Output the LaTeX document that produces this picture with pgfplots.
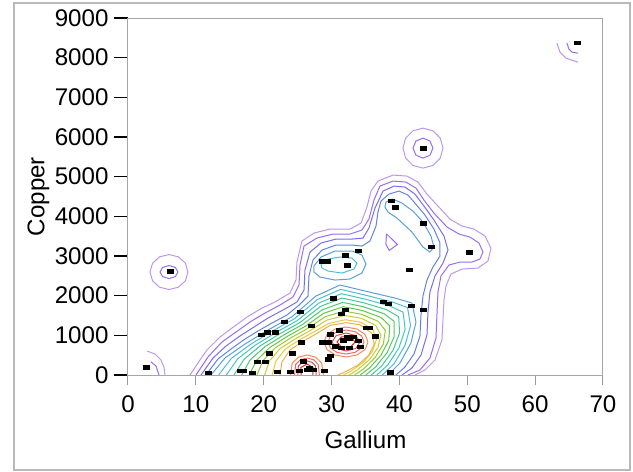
\documentclass[border=0pt]{standalone}
\usepackage{pgfplots}
\pgfplotsset{compat=1.18}
\usepackage{fontspec}
\setmainfont{Liberation Sans}
\definecolor{c1}{RGB}{190,150,240}
\definecolor{c2}{RGB}{150,110,240}
\definecolor{c3}{RGB}{120,110,235}
\definecolor{c4}{RGB}{100,130,225}
\definecolor{c5}{RGB}{90,160,215}
\definecolor{c6}{RGB}{80,190,210}
\definecolor{c7}{RGB}{70,200,190}
\definecolor{c8}{RGB}{70,200,150}
\definecolor{c9}{RGB}{80,200,110}
\definecolor{c10}{RGB}{100,200,70}
\definecolor{c11}{RGB}{150,205,50}
\definecolor{c12}{RGB}{200,205,50}
\definecolor{c13}{RGB}{230,200,60}
\definecolor{c14}{RGB}{240,175,70}
\definecolor{c15}{RGB}{240,140,90}
\definecolor{c16}{RGB}{235,110,100}
\definecolor{c17}{RGB}{225,80,80}
\definecolor{c18}{RGB}{210,40,40}
\pgfplotsset{cl/.style={draw=#1, line width=0.5bp, mark=none}}
\begin{document}
\begin{tikzpicture}
\path[use as bounding box] (-64bp,-48.5bp) rectangle (252.5bp,187.5bp);
\draw[gray!55, line width=0.6bp] (-57bp,-47.5bp) rectangle (251bp,186bp);
\begin{axis}[
  at={(0,0)}, anchor=south west,
  scale only axis, width=237.5bp, height=178.5bp,
  xmin=0, xmax=70, ymin=0, ymax=9000,
  xtick={0,10,...,70}, ytick={0,1000,...,9000},
  axis line style={draw=gray!70, line width=0.5bp},
  tick align=outside,
  xtick pos=left, ytick pos=left,
  ytick style={black, line width=0.8bp, /pgfplots/major tick length=7bp},
  xtick style={gray!80, line width=0.5bp, /pgfplots/major tick length=5bp},
  tick label style={font=\fontsize{12.1}{14}\selectfont},
  /pgf/number format/assume math mode=true,
  yticklabel style={/pgf/number format/1000 sep={}, xshift=-2bp},
  xticklabel style={yshift=-2.5bp},
  scaled y ticks=false,
  xlabel={Gallium}, ylabel={Copper},
  every axis x label/.style={at={(axis description cs:0.5,-0.1821)}, anchor=center, font=\fontsize{12.1}{14}\selectfont},
  every axis y label/.style={at={(axis description cs:-0.1884,0.5)}, anchor=center, rotate=90, font=\fontsize{12.1}{14}\selectfont},
  clip mode=individual,
]
% ---- level 1 ----
\addplot[cl=c1] coordinates {(9.14,0) (10.61,378) (11.64,630) (13.56,958) (15.33,1184) (17.54,1462) (19.75,1688) (21.66,1840) (23.87,2066) (24.76,2394) (24.90,2848) (25.64,3377) (27.41,3578) (29.77,3679) (32.71,3679) (34.34,3830) (35.22,4234) (35.81,4637) (36.84,4889) (39.05,5040) (41.11,5015) (42.74,4864) (44.06,4561) (45.68,4259) (47.45,3931) (49.22,3755) (50.99,3679) (52.61,3503) (53.49,3200) (53.05,2873) (51.58,2696) (49.22,2671) (47.60,2545) (46.86,2243) (46.57,1890) (46.42,1386) (46.27,882) (45.24,378) (43.77,126) (42.29,0)};
\addplot[cl=c1] coordinates {(8.84,2596) (8.46,2817) (7.44,2978) (6.04,3037) (4.64,2978) (3.62,2817) (3.24,2596) (3.62,2376) (4.64,2214) (6.04,2155) (7.44,2214) (8.46,2376) (8.84,2596)};
\addplot[cl=c1] coordinates {(46.42,5720) (46.02,5972) (44.95,6156) (43.47,6224) (41.99,6156) (40.92,5972) (40.52,5720) (40.92,5468) (41.99,5284) (43.47,5216) (44.95,5284) (46.02,5468) (46.42,5720)};
\addplot[cl=c1] coordinates {(63.22,8366) (63.66,8140) (64.54,7988) (66.31,7888)};
\addplot[cl=c1] coordinates {(2.80,605) (3.98,529) (4.86,378) (5.30,202) (5.45,0)};
% ---- level 2 ----
\addplot[cl=c2] coordinates {(10.02,0) (11.79,454) (13.85,832) (15.92,1084) (17.98,1336) (20.19,1562) (22.40,1764) (24.31,1966) (25.20,2268) (25.35,2772) (25.94,3251) (27.85,3452) (30.21,3553) (32.71,3553) (34.48,3654) (35.51,3931) (36.25,4410) (37.13,4763) (39.05,4889) (40.97,4864) (42.44,4712) (43.62,4410) (45.09,4082) (47.01,3730) (48.78,3553) (50.40,3478) (51.73,3326) (52.31,3100) (51.87,2923) (50.69,2848) (48.92,2848) (47.30,2772) (46.12,2495) (45.68,2092) (45.53,1512) (45.39,932) (44.50,428) (43.03,126) (41.26,0)};
\addplot[cl=c2] coordinates {(7.37,2596) (6.98,2712) (6.04,2760) (5.10,2712) (4.71,2596) (5.10,2480) (6.04,2432) (6.98,2480) (7.37,2596)};
\addplot[cl=c2] coordinates {(44.94,5720) (44.51,5898) (43.47,5972) (42.43,5898) (42.00,5720) (42.43,5542) (43.47,5468) (44.51,5542) (44.94,5720)};
\addplot[cl=c2] coordinates {(64.69,8366) (64.99,8215) (65.43,8140) (66.31,8114)};
\addplot[cl=c2] coordinates {(3.39,328) (4.13,227) (4.57,0)};
\addplot[cl=c2] coordinates {(38.1,3560) (39.7,3290) (38.5,3140) (38.0,3300) (38.1,3560)};
% ---- level 3 ----
\addplot[cl=c3] coordinates {(10.76,0) (12.53,428) (14.44,731) (16.50,983) (18.57,1210) (20.63,1436) (22.84,1638) (24.90,1840) (25.94,2142) (26.08,2646) (26.82,3100) (28.44,3326) (30.65,3427) (33.01,3427) (34.63,3452) (35.51,3704) (36.40,4208) (37.58,4637) (39.20,4763) (40.82,4738) (42.29,4561) (43.62,4259) (45.09,3906) (46.57,3503) (47.16,3150) (46.42,2822) (45.24,2495) (44.50,2092) (44.21,1588) (44.06,1008) (43.18,504) (41.85,176) (40.38,0)};
% ---- level 4 ----
\addplot[cl=c4] coordinates {(11.49,0) (13.26,403) (15.18,655) (17.24,907) (19.16,1109) (21.22,1310) (23.43,1512) (25.20,1760) (26.53,1991) (26.67,2495) (27.26,2898) (28.59,3150) (30.65,3276) (33.01,3276) (34.48,3251) (35.66,3377) (36.55,3755) (36.84,4108) (37.28,4385) (38.46,4561) (39.94,4637) (41.26,4536) (42.29,4334) (43.77,4032) (45.09,3679) (45.98,3326) (45.98,2999) (44.94,2722) (44.06,2394) (43.47,1991) (43.18,1512) (43.03,983) (42.15,529) (40.82,202) (39.49,0)};
% ---- level 5 ----
\addplot[cl=c5] coordinates {(12.23,0) (14.29,428) (17.24,781) (20.63,1134) (24.17,1470) (27.70,1991) (31.24,2268) (34.93,2117) (39.35,1940) (41.85,1814) (42.44,1336) (41.70,806) (40.08,302) (38.31,0)};
\addplot[cl=c5] coordinates {(27.41,2747) (28.44,2974) (30.50,3125) (33.01,3125) (34.48,3024) (35.07,2797) (34.48,2570) (32.71,2419) (30.50,2394) (28.29,2470) (27.41,2596) (27.41,2747)};
\addplot[cl=c5] coordinates {(38.02,4360) (39.05,4435) (40.38,4334) (42.00,4133) (43.47,3856) (44.65,3503) (45.09,3226) (44.50,3100) (43.47,3226) (41.85,3604) (39.64,3956) (38.31,4108) (37.87,4234) (38.02,4360)};
% ---- level 6 ----
\addplot[cl=c6] coordinates {(13.36,0) (15.22,417) (17.98,764) (21.19,1100) (24.56,1421) (27.93,1904) (31.34,2159) (34.85,2019) (38.94,1842) (41.20,1699) (41.64,1244) (40.82,744) (39.18,277) (37.49,0)};
\addplot[cl=c6] coordinates {(28.44,2797) (29.47,2923) (31.24,2974) (33.01,2948) (33.75,2822) (33.30,2671) (31.54,2570) (29.47,2621) (28.59,2696) (28.44,2797)};
% ---- level 7 ----
\addplot[cl=c7] coordinates {(14.49,0) (16.16,406) (18.71,747) (21.74,1067) (24.95,1373) (28.16,1817) (31.44,2050) (34.77,1921) (38.53,1744) (40.54,1584) (40.84,1151) (39.93,683) (38.28,252) (36.67,0)};
% ---- level 8 ----
\addplot[cl=c8] coordinates {(15.62,0) (17.09,395) (19.45,731) (22.30,1033) (25.35,1324) (28.39,1731) (31.54,1940) (34.68,1823) (38.12,1646) (39.89,1470) (40.03,1059) (39.05,621) (37.38,227) (35.86,0)};
% ---- level 9 ----
\addplot[cl=c9] coordinates {(16.75,0) (18.02,384) (20.19,714) (22.86,1000) (25.74,1276) (28.62,1644) (31.64,1831) (34.60,1725) (37.71,1548) (39.23,1355) (39.23,966) (38.17,560) (36.48,202) (35.04,0)};
% ---- level 10 ----
\addplot[cl=c10] coordinates {(17.88,0) (18.96,372) (20.92,697) (23.41,966) (26.13,1227) (28.85,1557) (31.73,1722) (34.52,1627) (37.30,1450) (38.58,1240) (38.43,874) (37.28,498) (35.58,176) (34.22,0)};
% ---- level 11 ----
\addplot[cl=c11] coordinates {(19.01,0) (19.89,361) (21.66,680) (23.97,933) (26.52,1179) (29.08,1470) (31.83,1613) (34.44,1529) (36.89,1352) (37.92,1125) (37.63,781) (36.40,437) (34.68,151) (33.40,0)};
% ---- level 12 ----
\addplot[cl=c12] coordinates {(20.14,0) (20.82,350) (22.40,664) (24.53,899) (26.92,1130) (29.31,1384) (31.93,1503) (34.35,1431) (36.48,1254) (37.27,1011) (36.82,689) (35.52,375) (33.78,126) (32.59,0)};
% ---- level 13 ----
\addplot[cl=c13] coordinates {(21.27,0) (21.76,339) (23.13,647) (25.08,866) (27.31,1081) (29.54,1297) (32.03,1394) (34.27,1333) (36.07,1156) (36.61,896) (36.02,596) (34.63,314) (32.88,101) (31.77,0)};
% ---- level 14 ----
\addplot[cl=c14] coordinates {(22.40,0) (22.69,328) (23.87,630) (25.64,832) (27.70,1033) (29.77,1250) (32.13,1320) (34.19,1265) (35.90,1058) (36.30,781) (35.50,504) (33.90,252) (31.98,76) (30.95,0)};
% ---- level 15 ----
\addplot[cl=c15] coordinates {(35.37,832) (34.94,1021) (33.75,1159) (32.13,1210) (30.51,1159) (29.32,1021) (28.89,832) (29.32,643) (30.51,505) (32.13,454) (33.75,505) (34.94,643) (35.37,832)};
\addplot[cl=c15] coordinates {(28.80,0) (28.54,302) (27.63,451) (26.38,504) (25.13,451) (24.21,302) (23.95,0)};
% ---- level 16 ----
\addplot[cl=c16] coordinates {(34.78,832) (34.43,983) (33.46,1094) (32.13,1134) (30.81,1094) (29.84,983) (29.48,832) (29.84,681) (30.81,570) (32.13,530) (33.46,570) (34.43,681) (34.78,832)};
\addplot[cl=c16] coordinates {(28.20,0) (28.04,265) (27.34,386) (26.38,428) (25.42,386) (24.71,265) (24.55,0)};
% ---- level 17 ----
\addplot[cl=c17] coordinates {(34.19,832) (33.59,992) (32.13,1059) (30.67,992) (30.07,832) (30.67,672) (32.13,605) (33.59,672) (34.19,832)};
\addplot[cl=c17] coordinates {(27.73,0) (27.65,227) (27.11,320) (26.38,353) (25.64,320) (25.10,227) (25.03,0)};
% ---- level 18 ----
\addplot[cl=c18] coordinates {(33.46,832) (32.80,963) (31.47,963) (30.80,832) (31.47,701) (32.80,701) (33.46,832)};
\addplot[cl=c18] coordinates {(27.23,0) (27.27,189) (26.38,277) (25.48,189) (25.53,0)};
% ---- observations ----
\addplot[only marks, mark=square*, mark size=1.5bp, mark options={black, fill=black, yscale=0.62}] coordinates {
(66.3,8370) (43.5,5720) (38.8,4390) (39.4,4230) (43.5,3830) (44.7,3230) (50.3,3100) (41.5,2650) (6.2,2620)
(28.7,2870) (29.4,2870) (32.1,3020) (32.4,2770) (34.0,3130) (30.2,1940) (25.4,1590) (23.1,1340) (20.5,1080)
(21.7,1080) (19.6,1010) (37.6,1840) (38.4,1790) (41.7,1740) (43.5,1640) (32.1,1640) (31.5,1540) (27.1,1240)
(35.2,1190) (35.6,1190) (36.4,980) (31.2,1130) (29.9,1030) (32.3,960) (33.2,960) (34.0,860) (28.7,830)
(29.6,830) (30.5,730) (31.5,680) (32.6,680) (34.2,710) (29.8,480) (29.6,400) (20.8,550) (24.3,550)
(19.0,330) (20.3,330) (25.8,350) (26.7,180) (26.4,130) (25.3,100) (27.3,130) (28.9,100) (18.3,50)
(22.0,80) (11.9,50) (16.5,100) (17.0,100) (2.7,200) (38.6,60) (25.5,830) (32.7,930) (31.8,880) (23.9,80)};
\end{axis}
\end{tikzpicture}
\end{document}
